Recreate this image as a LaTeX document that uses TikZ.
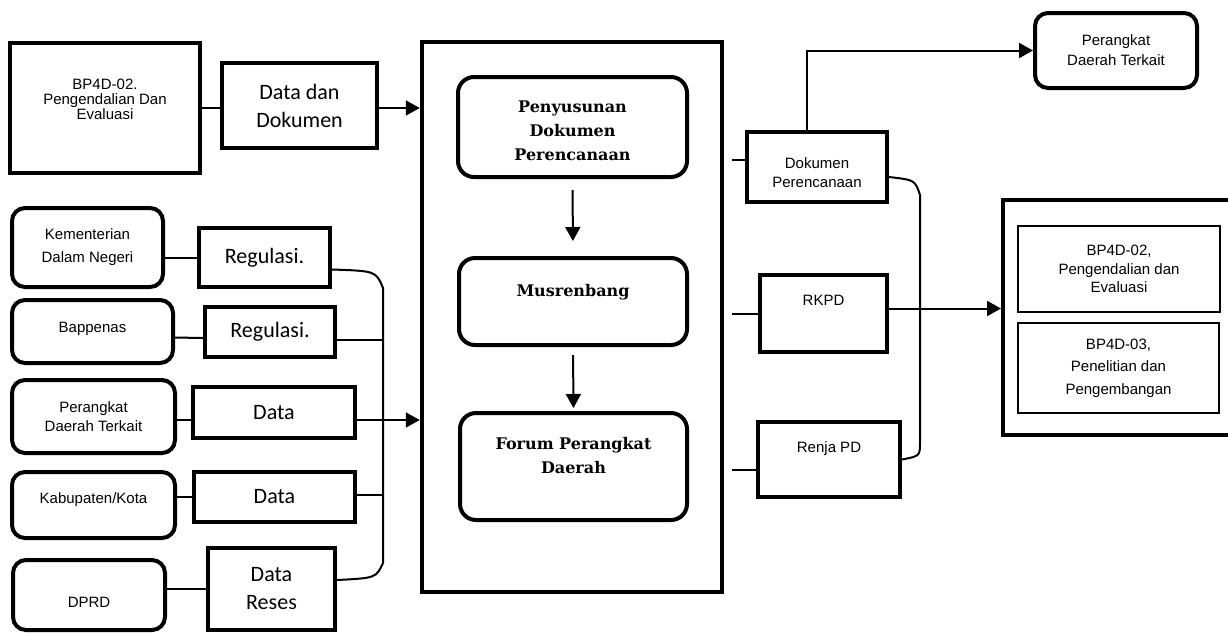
\documentclass[tikz,border=0pt]{standalone}
\usepackage{fontspec}
\usepackage{tikz}
\usetikzlibrary{arrows.meta,calc,positioning}
\newfontfamily\arialf{Liberation Sans}
\newfontfamily\calibf{Carlito}
\newfontfamily\bookf{DejaVu Serif}

\begin{document}
\begin{tikzpicture}[x=1pt,y=-1pt,
    box/.style={draw,line width=4pt,inner sep=0pt,align=center},
    rbox/.style={box,rounded corners=#1},
    rbox/.default=13pt,
    wh/.style 2 args={minimum width=#1pt,minimum height=#2pt},
    sa/.style={font=\arialf\fontsize{15}{#1}\selectfont},
    sa/.default=19,
    ca/.style={font=\calibf\fontsize{22}{28}\selectfont},
    sb/.style={font=\bookf\bfseries\fontsize{16}{24}\selectfont},
    con/.style={line width=2pt},
    arr/.style={con,-{Triangle[length=14pt,width=15pt]}}]
  \useasboundingbox (0,0) rectangle (1228,633);

  % sumber data (kiri)
  \node[box,wh={190}{130},sa=15,text depth=18pt] (bpA) at (105,108) {BP4D-02.\\Pengendalian Dan\\Evaluasi};
  \node[box,wh={155}{85},ca] (datadok) at (299.5,105.5) {Data dan\\Dokumen};
  \node[rbox,wh={151}{79},sa=23] (kemen) at (87.5,247.5) {Kementerian\\Dalam Negeri};
  \node[box,wh={131}{59},ca] (reg1) at (264.5,257.5) {Regulasi.};
  \node[rbox,wh={161}{63},sa,text height=11pt,text depth=9pt] (bapp) at (92.5,331.5) {Bappenas};
  \node[box,wh={130}{50},ca] (reg2) at (270,332) {Regulasi.};
  \node[rbox,wh={163}{73},sa] (pdt) at (93.5,416.5) {Perangkat\\Daerah Terkait};
  \node[box,wh={162}{51},ca] (data1) at (274,412.5) {Data};
  \node[rbox,wh={163}{66},sa,text height=11pt,text depth=14pt] (kab) at (93.5,505) {Kabupaten/Kota};
  \node[box,wh={161}{50},ca] (data2) at (274.5,497) {Data};
  \node[rbox,wh={152}{70},sa,text height=25pt,text depth=0pt] (dprd) at (89,595) {DPRD};
  \node[box,wh={127}{82},ca] (reses) at (271.5,589) {Data\\Reses};

  % proses
  \node[box,line width=4.5pt,wh={300}{550}] (main) at (572,317) {};
  \node[rbox=16pt,wh={229}{100},sb,text height=68pt] (susun) at (572.5,127) {Penyusunan\\Dokumen\\Perencanaan};
  \node[rbox=16pt,wh={228}{87},sb,text height=12pt,text depth=23pt] (musren) at (573,301.5) {Musrenbang};
  \node[rbox=16pt,wh={227}{107},sb,text depth=22pt] (forum) at (573.5,466.5) {Forum Perangkat\\Daerah};

  % hasil (kanan)
  \node[box,wh={140}{70},sa,text height=41pt] (dokp) at (817,167) {Dokumen\\Perencanaan};
  \node[box,wh={127}{77},sa,text height=11pt,text depth=27pt] (rkpd) at (823.5,313.5) {RKPD};
  \node[box,wh={142}{75},sa,text height=11pt,text depth=25pt] (renja) at (829,459.5) {Renja PD};
  \node[rbox,wh={162}{75},sa=20] (pdtR) at (1116,50.5) {Perangkat\\Daerah Terkait};
  \node[box,wh={240}{235}] (tujuan) at (1123,317.5) {};
  \node[box,line width=2pt,wh={202}{86},sa=18.5] (evl) at (1119,269) {BP4D-02,\\Pengendalian dan\\Evaluasi};
  \node[box,line width=1.5pt,wh={201}{90},sa=22.5] (litbang) at (1118.5,368) {BP4D-03,\\Penelitian dan\\Pengembangan};

  % garis kiri
  \coordinate (busT) at (383,288);
  \coordinate (busB) at (383,563);
  \coordinate (inL) at (383,420);
  \draw[con] (bpA.east) -- (bpA.east -| datadok.west);
  \draw[arr] (bpA.east -| datadok.east) -- (bpA.east -| main.west);
  \draw[con] (kemen.east |- reg1.west) -- (reg1.west);
  \draw[con] ([yshift=-6pt]bapp.east) -- ([yshift=-6pt]reg2.west);
  \draw[con] ([yshift=-8pt]reg2.east) -- ([yshift=-8pt]reg2.east -| busT);
  \draw[con] (pdt.east |- inL) -- (data1.west |- inL);
  \draw[con] (data1.east |- inL) -- (inL);
  \draw[con] (kab.east |- data2.west) -- (data2.west);
  \draw[con] ([yshift=2pt]data2.east) -- ([yshift=2pt]data2.east -| busT);
  \draw[con] (dprd.east |- reses.west) -- (reses.west);
  \draw[con] ([yshift=-12pt]reg1.east) .. controls (376,271) .. (busT) -- (busB)
    .. controls (376,578) .. ([yshift=9pt]reses.east);
  \draw[arr] (inL) -- (inL -| main.west);

  % alur di dalam
  \draw[arr,shorten <=11pt,shorten >=15pt] (susun.south) -- (musren.north);
  \draw[arr,shorten <=8pt,shorten >=3pt] (musren.south) -- (forum.north);

  % garis kanan
  \coordinate (dokIn) at ([yshift=7pt]dokp.west);
  \coordinate (renIn) at ([yshift=-10.5pt]renja.west);
  \coordinate (dokUp) at ([xshift=-10pt]dokp.north);
  \coordinate (busR1) at (920,195);
  \coordinate (busR2) at (920,442);
  \coordinate (outIn) at ([yshift=5pt]rkpd.east);
  \draw[con,shorten <=8pt] (dokIn -| main.east) -- (dokIn);
  \draw[con,shorten <=8pt] (rkpd.west -| main.east) -- (rkpd.west);
  \draw[con,shorten <=8pt] (renIn -| main.east) -- (renIn);
  \draw[arr] (dokUp) |- (pdtR.west);
  \draw[con] ([yshift=-10pt]dokp.east) .. controls (915,180) .. (busR1) -- (busR2)
    .. controls (920,456) .. (renja.east);
  \draw[arr] (outIn) -- (outIn -| tujuan.west);
\end{tikzpicture}
\end{document}
